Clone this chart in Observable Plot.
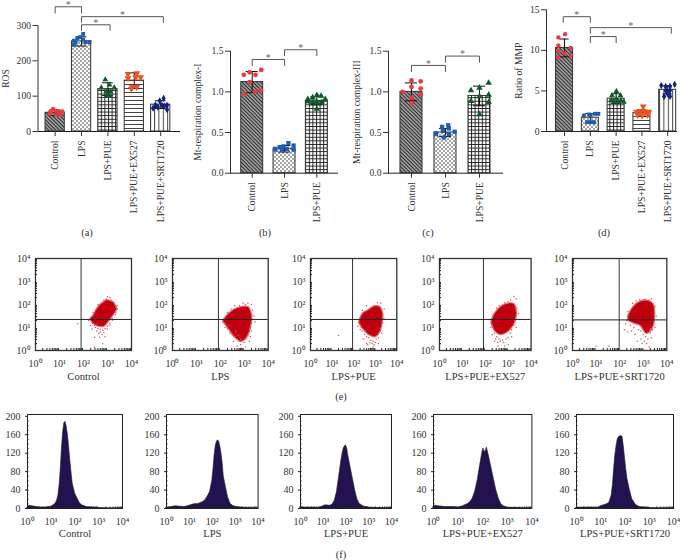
<!DOCTYPE html>
<html><head><meta charset="utf-8">
<script src="https://cdn.jsdelivr.net/npm/d3@7"></script>
<script src="https://cdn.jsdelivr.net/npm/@observablehq/plot@0.6"></script>
<style>
html,body{margin:0;padding:0;background:#fff}
#page{position:relative;width:685px;height:560px;overflow:hidden;font-family:"Liberation Serif",serif;color:#333}
#page>div,#page>svg{position:absolute}
#page svg{overflow:visible;max-width:none;height:auto}
.cap{font-size:10.5px;transform:translateX(-50%);line-height:12px}
</style></head><body>
<svg width="0" height="0" style="position:absolute">
<defs>
<pattern id="pDiag" width="2.6" height="2.6" patternUnits="userSpaceOnUse" patternTransform="rotate(45)"><rect width="2.6" height="2.6" fill="#a8a8a8"/><rect width="2.6" height="1.1" fill="#2b2b2b"/></pattern>
<pattern id="pDots" width="4" height="4" patternUnits="userSpaceOnUse"><rect width="4" height="4" fill="#fff"/><circle cx="1" cy="1" r=".8" fill="#333"/><circle cx="3" cy="3" r=".8" fill="#333"/></pattern>
<pattern id="pGrid" width="3.6" height="3.6" patternUnits="userSpaceOnUse"><rect width="3.6" height="3.6" fill="#fff"/><path d="M0 .5H3.6M.5 0V3.6" stroke="#222" stroke-width="1"/></pattern>
<pattern id="pH" width="5" height="4" patternUnits="userSpaceOnUse"><rect width="5" height="4" fill="#fff"/><rect width="5" height="1" fill="#444"/></pattern>
<pattern id="pV" width="4.4" height="5" patternUnits="userSpaceOnUse"><rect width="4.4" height="5" fill="#fff"/><rect width="1" height="5" fill="#444"/></pattern>
</defs></svg>
<div id="page"></div>
<script>
// ---------- labels ----------
const groupNames = ["Control","LPS","LPS+PUE","LPS+PUE+EX527","LPS+PUE+SRT1720"];
const barFills = ["url(#pDiag)","url(#pDots)","url(#pGrid)","url(#pH)","url(#pV)"];
const pointColors = ["#ea3a40","#1f5cb0","#0f5a2a","#f0501a","#12217a"];
const decadeLabels = new Map([[1,"10⁰"],[10,"10¹"],[100,"10²"],[1000,"10³"],[10000,"10⁴"]]);

// ---------- (a) ROS ----------
const rosMeans = [53,255,120,144,76];
const rosSd = [8,13,18,22,11];
const rosPoints = [
 [[-.18,57],[-.08,64],[.01,59],[.14,57],[.27,57],[-.2,50],[.04,47],[.2,47]],
 [[-.29,257],[-.29,245],[-.16,264],[.06,276],[.06,260],[-.06,267],[.15,253],[.3,253],[-.23,252]],
 [[-.1,147],[-.25,124],[.24,124],[.06,132],[-.06,113],[.09,113],[-.06,100],[.06,102]],
 [[-.24,161],[.09,163],[.24,152],[-.24,149],[.05,152],[-.08,124],[.09,124],[-.11,119]],
 [[.11,94],[-.04,87],[-.2,75],[-.29,66],[-.11,69],[.05,74],[.24,74],[.24,62],[.14,72]]];
const rosBrackets = [[0,1,353,335],[1,2.08,302,286],[1,4.1,325,309]];

// ---------- (b) complex I ----------
const c1Means = [1.12,.30,.89];
const c1Sd = [.13,.04,.05];
const c1Points = [
 [[-.26,1.21],[-.08,1.24],[.1,1.21],[.28,1.27],[-.08,1.12],[.26,1.02],[.08,1.0],[-.24,.97]],
 [[-.29,.3],[-.15,.32],[-.03,.33],[.12,.37],[.28,.34],[.28,.29],[.07,.3],[-.08,.29],[-.29,.29]],
 [[-.28,.91],[-.13,.93],[0,.96],[.13,.95],[.26,.91],[-.28,.88],[-.13,.87],[0,.87],[.15,.87],[0,.79]]];
const c1Brackets = [[0,1,1.398,1.325],[1,2,1.518,1.444]];

// ---------- (c) complex III ----------
const c3Means = [1.0,.5,.95];
const c3Sd = [.11,.05,.12];
const c3Points = [
 [[-.26,1.0],[0,1.14],[.27,1.13],[0,1.06],[.27,1.04],[.27,.97],[0,.93],[0,.86]],
 [[-.28,.49],[-.1,.57],[.08,.59],[.27,.51],[-.05,.44],[-.28,.48],[-.08,.52],[.1,.55],[.1,.48]],
 [[-.25,1.017],[0,1.05],[.27,1.11],[-.25,.886],[0,.943],[.27,.964],[.27,.873],[0,.722]]];
const c3Brackets = [[0,1,1.325,1.25],[1,2,1.44,1.365]];

// ---------- (d) MMP ----------
const mmpMeans = [10.3,1.7,4.05,2.26,5.14];
const mmpSd = [1.1,.5,.6,.4,.5];
const mmpPoints = [
 [[-.24,11.6],[.02,12],[-.24,10.6],[.24,10.3],[-.24,9.9],[0,9.6],[.24,9.4],[-.24,9.1]],
 [[-.25,1.97],[-.05,2.1],[.18,2.18],[.31,2.18],[-.12,1.15],[.01,1.15],[.14,1.15],[.01,1.97]],
 [[.01,4.97],[-.16,4.44],[.17,4.44],[-.18,3.82],[.01,4.03],[.19,3.82],[-.09,3.62],[.1,3.62],[.3,3.62]],
 [[.05,3.0],[-.21,2.38],[-.05,2.38],[.12,2.38],[.27,2.38],[-.16,1.97],[.01,1.89],[.21,1.97]],
 [[-.25,5.67],[-.08,5.55],[.09,5.55],[.27,5.8],[-.08,5.06],[.09,5.06],[-.01,4.64],[-.14,4.32],[.09,4.32]]];
const mmpBrackets = [[-.05,1,14.15,13.45],[1,2,11.7,10.95],[1,4.14,12.8,12.1]];

// ---------- (e) dense core of each cell cloud: log10 x, lower, upper log10 y ----------
const cloudX = [[2.32,2.43,2.57,2.71,2.85,2.99,3.125,3.26,3.375],[2.15,2.40,2.61,2.89,3.17,3.31],[2.28,2.46,2.69,3.0,3.23,3.35],[2.30,2.45,2.67,2.96,3.25,3.36],[2.39,2.61,2.89,3.17,3.42,3.48]];
const cloudLow = [[1.32,1.18,1.08,1.05,1.05,1.2,1.38,1.58,1.76],[1.25,.9,.6,.4,.7,1.35],[1.2,.95,.72,.6,.85,1.5],[1.18,.85,.7,.8,1.15,1.55],[1.32,1.2,1.1,.75,1.05,1.55]];
const cloudHigh = [[1.38,1.5,1.76,1.96,2.07,2.16,2.12,2.05,1.8],[1.3,1.6,1.76,1.86,1.86,1.5],[1.22,1.6,1.72,1.9,1.86,1.56],[1.28,1.6,1.85,2.0,2.0,1.64],[1.5,1.88,2.1,2.14,2.0,1.64]];
// the looser specks around and below each core
const strayPoints = [
 [[1.76,1.16],[2.47,.58],[2.67,.58],[2.8,.29],[2.46,.14],[3.1,2.3],[2.28,1.09],[3.4,1.96],[3.33,1.57],[2.22,1.3],[2.57,1.16],[2.36,.94],[2.64,.75],[2.78,.7],[2.99,.94],[3.2,1.38],[3.42,1.8],[3.0,2.35],[2.6,2.0],[2.4,1.65],[2.9,.6],[2.7,.8],[3.1,1.1],[3.3,1.35],[2.5,1.0],[2.6,.95],[2.7,.92],[2.8,.88],[2.9,.95],[3.0,1.05],[3.1,1.18],[3.2,1.32],[2.45,1.1],[2.38,1.18],[2.75,2.05],[2.85,2.18],[2.95,2.24],[3.15,2.18],[3.25,2.1],[2.5,1.75],[3.35,1.66],[2.55,.85],[2.85,.78],[2.42,1.55],[3.38,1.9]],
 [[2.1,1.25],[2.2,1.0],[2.3,1.65],[2.55,.4],[2.7,.2],[2.8,.05],[2.95,.02],[3.05,.15],[3.2,.4],[3.3,.85],[3.4,1.5],[3.45,1.25],[3.3,2.0],[3.15,2.05],[2.95,2.05],[2.6,1.95],[2.4,.75],[3.35,1.75],[3.25,.6],[2.9,.1],[2.5,.7],[2.6,.6],[2.7,.5],[2.8,.4],[2.85,.25],[3.0,.35],[3.1,.55],[2.95,.45],[3.15,.7],[3.25,1.0],[3.3,1.2],[2.3,.95],[2.35,1.1],[2.2,1.2],[2.75,.65],[2.65,.85],[3.05,.5],[2.85,.5],[2.45,1.8],[2.8,1.95],[3.05,2.0]],
 [[1.95,2.15],[1.3,.65],[2.2,1.05],[2.3,.9],[2.45,.5],[2.6,.3],[2.8,.1],[3.0,.05],[3.15,.3],[3.3,.75],[3.4,1.4],[3.42,1.8],[3.1,2.08],[2.6,1.95],[2.4,1.75],[2.65,.25],[2.9,.15],[3.25,2.05],[2.4,.85],[2.5,.7],[2.6,.6],[2.7,.55],[2.8,.45],[2.9,.4],[3.0,.35],[3.05,.5],[3.15,.55],[3.25,.85],[3.3,1.05],[2.75,.35],[2.85,.3],[2.95,.25],[2.35,1.0],[2.55,.85],[2.3,1.15],[3.35,1.2]],
 [[2.25,1.0],[2.3,.7],[2.4,.4],[2.55,.2],[2.7,.05],[2.85,.2],[3.0,.25],[3.15,.6],[3.35,1.0],[3.45,1.6],[3.35,2.25],[3.25,2.35],[3.1,2.2],[2.5,1.85],[2.35,1.55],[2.45,.5],[2.9,.02],[3.3,1.3],[2.4,.75],[2.5,.6],[2.6,.5],[2.65,.4],[2.75,.45],[2.8,.35],[2.9,.5],[3.0,.55],[3.1,.75],[3.15,.9],[3.25,1.1],[2.35,1.0],[2.3,1.1],[2.55,.35],[2.85,2.08],[3.0,2.12],[2.6,1.95],[3.38,1.85]],
 [[1.55,.2],[1.0,.2],[2.25,1.15],[2.2,.9],[2.35,.8],[2.5,.85],[2.65,.7],[2.9,.5],[3.0,.05],[3.1,.0],[3.25,.15],[3.35,.55],[3.5,1.0],[3.55,1.5],[3.5,1.9],[3.35,2.25],[2.55,2.05],[2.35,1.7],[2.3,1.3],[2.75,.4],[2.95,.3],[3.05,.4],[3.15,.3],[3.2,.5],[3.1,.6],[3.0,.7],[2.9,.85],[2.8,.9],[3.3,.75],[3.4,.9],[3.3,.95],[2.45,1.1],[2.6,1.0],[2.7,2.15],[2.85,2.2],[3.05,2.22],[3.25,2.2],[3.45,1.3]]];
const quadrantX = [1.9,1.92,1.95,1.92,1.98];
const quadrantY = [1.35,1.35,1.35,1.35,1.33];

// ---------- (f) histograms: log10 x and count ----------
const histX = [
 [0,.1,.2,.4,.6,.8,1,1.1,1.2,1.25,1.3,1.35,1.4,1.45,1.5,1.55,1.6,1.65,1.7,1.75,1.8,1.85,1.9,2,2.1,2.2,2.3,2.5,2.8,3,3.5,4],
 [0,.2,.4,.6,.8,1,1.2,1.4,1.6,1.7,1.8,1.9,2,2.05,2.1,2.15,2.2,2.25,2.3,2.35,2.4,2.45,2.5,2.6,2.7,2.8,2.9,3.0,3.3,4],
 [0,.2,.4,.6,.8,.95,1.1,1.3,1.4,1.5,1.6,1.7,1.8,1.85,1.9,1.95,2,2.05,2.1,2.2,2.3,2.4,2.5,2.6,2.8,3,4],
 [0,.1,.2,.5,.8,1,1.2,1.4,1.5,1.6,1.7,1.8,1.9,2,2.03,2.08,2.13,2.17,2.25,2.35,2.45,2.55,2.65,2.75,2.85,3,4],
 [0,.3,.6,.9,1.0,1.2,1.35,1.45,1.5,1.55,1.6,1.65,1.7,1.75,1.8,1.85,1.9,1.95,2,2.05,2.1,2.2,2.3,2.45,2.6,3,4]];
const histCounts = [
 [3,6,5,3,2,2,4,7,12,18,28,50,85,130,165,185,188,178,160,135,105,80,55,33,22,12,7,3,2,1,0,0],
 [2,3,5,4,3,6,9,10,14,18,26,36,60,85,115,135,145,148,145,135,120,100,70,45,22,10,6,4,2,0],
 [3,2,2,2,1,4,7,6,8,16,35,70,105,120,130,135,137,130,115,90,65,40,20,10,4,2,0],
 [4,6,5,3,3,2,5,10,14,22,38,62,95,125,130,122,126,132,115,90,65,40,22,10,5,2,0],
 [2,2,2,1,5,8,12,28,50,85,115,135,150,155,156,158,155,135,110,85,65,40,20,8,3,1,0]];

// ---------- drawing helpers ----------
const page = document.getElementById("page");
const FONT = '"Liberation Serif", serif';
const place = (node,left,top)=>{node.style.position="absolute";node.style.left=left+"px";node.style.top=top+"px";page.appendChild(node);};
const invTriangle = {draw(c,s){const r=Math.sqrt(s/1.3);c.moveTo(-r,-r*.75);c.lineTo(r,-r*.75);c.lineTo(0,r);c.closePath();}};
const symbols = ["circle","square","triangle",invTriangle,"diamond"];

function barPanel({left,axisX,endX,axisY0,axisYTop,xDomain,yMax,yTicks,yFormat,label,labelOffset,half,means,sd,points,brackets,r}){
  const n = means.length;
  const bars = means.map((m,i)=>({i,m,s:sd[i]}));
  const dots = points.flatMap((g,i)=>g.map(([o,v])=>({x:i+o,v,i})));
  const fig = Plot.plot({
    width:endX-left,height:226,marginLeft:axisX-left,marginRight:0,marginTop:axisYTop,marginBottom:226-axisY0,
    style:{fontFamily:FONT,fontSize:"9.6px",color:"#333",background:"transparent"},
    x:{type:"linear",domain:xDomain},y:{domain:[0,yMax]},
    marks:[
      Plot.rect(bars,{x1:d=>d.i-half,x2:d=>d.i+half,y1:0,y2:"m",fill:d=>barFills[d.i],stroke:"#333",strokeWidth:1}),
      Plot.frame({anchor:"left",stroke:"#333"}),
      Plot.ruleY([0],{stroke:"#222"}),
      Plot.axisY({ticks:yTicks,tickFormat:yFormat,tickSize:5,tickPadding:2,stroke:"#333",fill:"#333",label,labelAnchor:"center",labelArrow:"none",labelOffset}),
      Plot.axisX({ticks:d3.range(n),tickFormat:i=>groupNames[i],tickRotate:-90,tickSize:5,tickPadding:4,stroke:"#333",fill:"#333",label:null}),
      Plot.ruleX(bars,{x:"i",y1:d=>d.m-d.s,y2:d=>d.m+d.s,stroke:"#111"}),
      Plot.ruleY(bars.flatMap(d=>[{i:d.i,v:d.m-d.s},{i:d.i,v:d.m+d.s}]),{y:"v",x1:d=>d.i-half*.55,x2:d=>d.i+half*.55,stroke:"#111"}),
      Plot.dot(dots,{x:"x",y:"v",symbol:d=>symbols[d.i],fill:d=>pointColors[d.i],r,stroke:"none"}),
      ...brackets.map(([a,b,top,drop])=>Plot.line([[a,drop],[a,top],[b,top],[b,drop]],{x:"0",y:"1",stroke:"#555",strokeWidth:1})),
      Plot.text(brackets,{x:d=>(d[0]+d[1])/2,y:d=>d[2],text:()=>"*",dy:-2,fontSize:10,fill:"#666"})
    ]});
  place(fig,left,0);
}

barPanel({left:0,axisX:37.5,endX:180,axisY0:131,axisYTop:25,xDomain:[-.65,4.75],yMax:300,yTicks:[0,100,200,300],yFormat:d3.format("d"),label:"ROS",labelOffset:36,half:.365,means:rosMeans,sd:rosSd,points:rosPoints,brackets:rosBrackets,r:2.2});
barPanel({left:190,axisX:230,endX:338,axisY0:172.7,axisYTop:50.7,xDomain:[-.672,2.67],yMax:1.5,yTicks:[0,.5,1,1.5],yFormat:d3.format(".1f"),label:"Mt-respiration complex-I",labelOffset:36,half:.34,means:c1Means,sd:c1Sd,points:c1Points,brackets:c1Brackets,r:2.4});
barPanel({left:345,axisX:388,endX:503,axisY0:172.7,axisYTop:50.7,xDomain:[-.676,2.706],yMax:1.5,yTicks:[0,.5,1,1.5],yFormat:d3.format(".1f"),label:"Mt-respiration complex-III",labelOffset:35,half:.324,means:c3Means,sd:c3Sd,points:c3Points,brackets:c3Brackets,r:2.4});
barPanel({left:505,axisX:546,endX:677,axisY0:131,axisYTop:9.3,xDomain:[-.7,4.38],yMax:15,yTicks:[0,5,10,15],yFormat:d3.format("d"),label:"Ratio of MMP",labelOffset:31,half:.33,means:mmpMeans,sd:mmpSd,points:mmpPoints,brackets:mmpBrackets,r:2.2});

const minorDecades = [1,10,100,1000].flatMap(d=>[2,3,4,5,6,7,8,9].map(k=>k*d));
const decades = [1,10,100,1000,10000];
const decFmt = d=>decadeLabels.get(d);

function scatterPanel(i,fl,fr){
  const cloud = cloudX[i].map((x,k)=>({x:10**x,lo:10**cloudLow[i][k],hi:10**cloudHigh[i][k]}));
  const stray = strayPoints[i].map(([x,y])=>({x:10**x,y:10**y}));
  const ml=32,mt=8,h=140,mb=h-mt-92;
  const fig = Plot.plot({
    width:fr-fl+ml+10,height:h,marginLeft:ml,marginRight:10,marginTop:mt,marginBottom:mb,
    style:{fontFamily:FONT,fontSize:"9.6px",color:"#333",background:"transparent"},
    x:{type:"log",domain:[1,1e4]},y:{type:"log",domain:[1,1e4]},
    marks:[
      Plot.areaY(cloud,{x:"x",y1:"lo",y2:"hi",curve:"catmull-rom",fill:"#e26a72",stroke:"#e26a72",strokeWidth:2.5}),
      Plot.areaY(cloud,{x:"x",y1:"lo",y2:"hi",curve:"catmull-rom",fill:"#c0000e"}),
      Plot.dot(stray,{x:"x",y:"y",r:.75,fill:"#e0505c"}),
      Plot.ruleX([10**quadrantX[i]],{stroke:"#333"}),
      Plot.ruleY([10**quadrantY[i]],{stroke:"#222"}),
      Plot.frame({stroke:"#333",strokeWidth:1.3}),
      Plot.axisX({ticks:minorDecades,tickFormat:()=>"",tickSize:-2,stroke:"#222",label:null}),
      Plot.axisY({ticks:minorDecades,tickFormat:()=>"",tickSize:-2,stroke:"#222",label:null}),
      Plot.axisX({ticks:decades,tickFormat:decFmt,tickSize:0,tickPadding:9,fill:"#333",fontSize:10,label:null}),
      Plot.axisY({ticks:decades,tickFormat:decFmt,tickSize:0,tickPadding:5,fill:"#333",fontSize:10,label:null}),
      Plot.text([groupNames[i]],{frameAnchor:"bottom",lineAnchor:"middle",dy:26,fontSize:10.6,fill:"#333"})
    ]});
  place(fig,fl-ml,258-mt);
}
[[35,131],[172.3,268],[310,396.3],[438.7,530.3],[571.7,666]].forEach(([a,b],i)=>scatterPanel(i,a,b));

function histPanel(i,fl,fr){
  const d = histX[i].map((x,k)=>({x:10**x,y:histCounts[i][k]}));
  const ml=26,mt=8,h=140,mb=h-mt-94;
  const fig = Plot.plot({
    width:fr-fl+ml+10,height:h,marginLeft:ml,marginRight:10,marginTop:mt,marginBottom:mb,
    style:{fontFamily:FONT,fontSize:"9.6px",color:"#333",background:"transparent"},
    x:{type:"log",domain:[1,1e4]},y:{domain:[0,204]},
    marks:[
      Plot.areaY(d,{x:"x",y:"y",fill:"#22124f",stroke:"#222",strokeWidth:.6}),
      Plot.frame({stroke:"#222",strokeWidth:1}),
      Plot.axisX({ticks:minorDecades,tickFormat:()=>"",tickSize:-1.5,stroke:"#222",label:null}),
      Plot.axisY({ticks:d3.range(10,200,10),tickFormat:()=>"",tickSize:-1.5,stroke:"#222",label:null}),
      Plot.axisX({ticks:decades,tickFormat:decFmt,tickSize:0,tickPadding:9,fill:"#333",fontSize:10,label:null}),
      Plot.axisY({ticks:[0,40,80,120,160,200],tickSize:2,tickPadding:5,stroke:"#222",fill:"#333",fontSize:10,label:null}),
      Plot.text([groupNames[i]],{frameAnchor:"bottom",lineAnchor:"middle",dy:25.5,fontSize:10.6,fill:"#333"})
    ]});
  place(fig,fl-ml,414.3-mt);
}
[[27.3,122.3],[165.7,257.3],[300.3,391.3],[433.3,531.7],[575.7,672.7]].forEach(([a,b],i)=>histPanel(i,a,b));

[["(a)",87,227],["(b)",265,227],["(c)",428,227],["(d)",604,227],["(e)",341,391],["(f)",341,549]].forEach(([t,x,y])=>{
  const c=document.createElement("div");c.className="cap";c.textContent=t;c.style.left=x+"px";c.style.top=y+"px";page.appendChild(c);
});
</script></body></html>
